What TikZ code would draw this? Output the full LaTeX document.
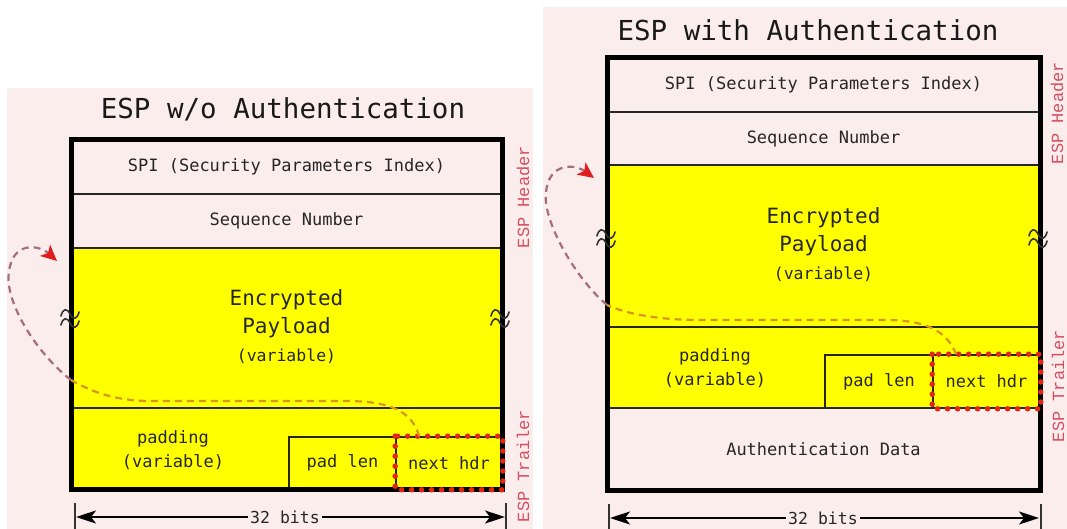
\documentclass[tikz,border=0pt]{standalone}
\usepackage{fontspec}
\newfontfamily\dmono{DejaVu Sans Mono}
\newfontfamily\lmono{Liberation Mono}
\usetikzlibrary{arrows.meta}
\definecolor{pinkbg}{RGB}{252,237,237}
\definecolor{yel}{RGB}{255,255,0}
\definecolor{espred}{RGB}{212,78,96}
\definecolor{dashout}{RGB}{165,110,128}
\definecolor{dashin}{RGB}{215,150,30}
\definecolor{dotred}{RGB}{226,38,22}
\definecolor{tipred}{RGB}{222,30,30}
\begin{document}
\begin{tikzpicture}[x=1pt,y=-1pt,
  cell/.style={draw=black!85, line width=1.6pt, inner sep=0pt, text=black!85,
    font=\dmono\fontsize{17}{24}\selectfont, align=center},
  lbl/.style={inner sep=0pt, text=black!85, font=\dmono\fontsize{17}{24}\selectfont, align=center},
  titletext/.style={font=\dmono\fontsize{27.5}{30}\selectfont, text=black!90},
  sidelbl/.style={rotate=90, text=espred, font=\lmono\fontsize{17}{18}\selectfont},
  outerframe/.style={draw=black, line width=5pt},
  dimline/.style={line width=1.8pt, black, {Stealth[length=20pt,width=13pt,inset=5pt]}-{Stealth[length=20pt,width=13pt,inset=5pt]}},
  tick/.style={line width=1.8pt, black!80},
  dimlbl/.style={fill=pinkbg, inner sep=2pt, text=black!85, font=\dmono\fontsize{16.5}{18}\selectfont},
  hdrdots/.style={draw=dotred, line width=5.5pt, line cap=round, dash pattern=on 0pt off 10pt},
  flowin/.style={draw=dashin, line width=2.2pt, dash pattern=on 7pt off 5pt},
  flowout/.style={draw=dashout, line width=2.2pt, dash pattern=on 7pt off 5pt,
    -{Stealth[length=16pt,width=15pt,inset=4pt,color=tipred]}},
  brk/.pic={
    \draw[line width=1.6pt, black!80, line cap=round]
      (-9,-2) .. controls (-7,-10) and (-3,-10) .. (0,-4) .. controls (3,2) and (7,2) .. (9,-6);
    \draw[line width=1.6pt, black!80, line cap=round]
      (-9,7) .. controls (-7,-1) and (-3,-1) .. (0,5) .. controls (3,11) and (7,11) .. (9,3);
  }
]
\useasboundingbox (0,0) rectangle (1067,529);
\fill[white] (0,0) rectangle (1067,529);
% panels
\fill[pinkbg] (7,88) rectangle (533,529);
\fill[pinkbg] (543,7) rectangle (1067,529);

% ================= LEFT =================
\node[titletext] (t1) at (283,109) {ESP w/o Authentication};
\node[cell, fill=pinkbg, minimum width=431pt, minimum height=54pt] (spi1) at (286.5,167) {SPI (Security Parameters Index)};
\node[cell, fill=pinkbg, minimum width=431pt, minimum height=54pt] (seq1) at (286.5,221) {Sequence Number};
\node[cell, fill=yel, minimum width=431pt, minimum height=160pt] (pay1) at (286.5,328) {};
\node[lbl, font=\dmono\fontsize{21}{28}\selectfont] (pt1) at (286.5,327) {Encrypted\\Payload\\{\fontsize{16.5}{20}\selectfont (variable)}};
\node[cell, fill=yel, minimum width=431pt, minimum height=81pt] (trl1) at (286.5,448.5) {};
\node[lbl] (pad1) at (173,450) {padding\\(variable)};
\node[cell, fill=yel, minimum width=107pt, minimum height=52pt] (pl1) at (342.5,463) {pad len};
\node[cell, fill=yel, minimum width=106pt, minimum height=52pt] (nh1) at (449,463) {next hdr};
\draw[outerframe] (71,140) rectangle (502,489);
\draw[hdrdots] (nh1.north west) rectangle (nh1.south east);
\pic at (70,318) {brk};
\pic at (500,318) {brk};
% flow curve
\coordinate (e1) at (71,380);
\coordinate (tg1) at (57,261);
\draw[flowin] ([xshift=24pt]nh1.north west) .. controls (412,412) and (392,401) .. (345,401)
  -- (150,401) .. controls (110,401) and (85,388) .. (e1);
\draw[flowout] (e1) .. controls (35,352) and (4,300) .. (9,272) .. controls (12,242) and (38,244) .. (tg1);
% side labels
\node[sidelbl] (h1) at (523,197) {ESP Header};
\node[sidelbl] (tr1) at (523,466) {ESP Trailer};
% dimension
\coordinate (dl1) at (76,517);
\coordinate (dr1) at (505,517);
\draw[tick] (75,503) -- (75,529);
\draw[tick] (506,503) -- (506,529);
\draw[dimline] (dl1) -- (dr1);
\node[dimlbl] (b1) at (285,517) {32 bits};

% ================= RIGHT =================
\node[titletext] (t2) at (808,30) {ESP with Authentication};
\node[cell, fill=pinkbg, minimum width=433pt, minimum height=54pt] (spi2) at (823.5,85) {SPI (Security Parameters Index)};
\node[cell, fill=pinkbg, minimum width=433pt, minimum height=53pt] (seq2) at (823.5,138.5) {Sequence Number};
\node[cell, fill=yel, minimum width=433pt, minimum height=162pt] (pay2) at (823.5,246) {};
\node[lbl, font=\dmono\fontsize{21}{28}\selectfont] (pt2) at (823.5,245) {Encrypted\\Payload\\{\fontsize{16.5}{20}\selectfont (variable)}};
\node[cell, fill=yel, minimum width=433pt, minimum height=81pt] (trl2) at (823.5,367.5) {};
\node[lbl] (pad2) at (715,368) {padding\\(variable)};
\node[cell, fill=yel, minimum width=108pt, minimum height=53pt] (pl2) at (879,381.5) {pad len};
\node[cell, fill=yel, minimum width=107pt, minimum height=53pt] (nh2) at (986.5,381.5) {next hdr};
\node[cell, fill=pinkbg, minimum width=433pt, minimum height=82pt] (auth2) at (823.5,449) {Authentication Data};
\draw[outerframe] (607,58) rectangle (1040,490);
\draw[hdrdots] (nh2.north west) rectangle (nh2.south east);
\pic at (606,238) {brk};
\pic at (1038,238) {brk};
\coordinate (e2) at (607,305);
\coordinate (tg2) at (594,178);
\draw[flowin] ([xshift=24pt]nh2.north west) .. controls (947,332) and (928,320) .. (885,320)
  -- (700,320) .. controls (652,320) and (622,312) .. (e2);
\draw[flowout] (e2) .. controls (575,278) and (542,220) .. (546,192) .. controls (549,162) and (575,164) .. (tg2);
\node[sidelbl] (h2) at (1057,113) {ESP Header};
\node[sidelbl] (tr2) at (1058,386) {ESP Trailer};
\coordinate (dl2) at (610,518);
\coordinate (dr2) at (1039,518);
\draw[tick] (609,504) -- (609,529);
\draw[tick] (1041,504) -- (1041,529);
\draw[dimline] (dl2) -- (dr2);
\node[dimlbl] (b2) at (823,518) {32 bits};
\end{tikzpicture}
\end{document}
